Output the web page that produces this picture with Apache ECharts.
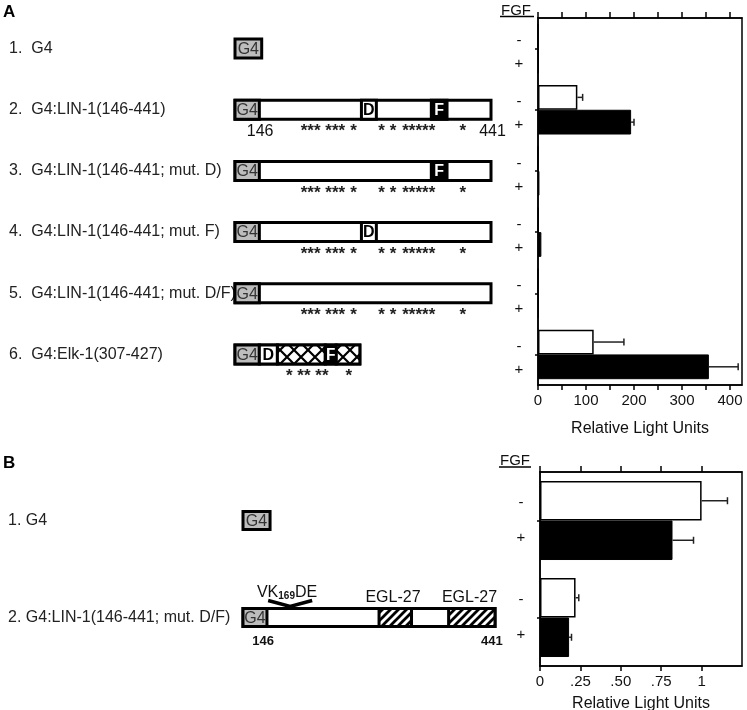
<!DOCTYPE html>
<html>
<head>
<meta charset="utf-8">
<script src="https://cdn.jsdelivr.net/npm/echarts@6/dist/echarts.min.js"></script>
<style>
  html, body { margin: 0; padding: 0; background: #fff; }
  #chart { width: 747px; height: 710px; }
</style>
</head>
<body>
<div id="chart"></div>
<script>
// ---- panel A data (Relative Light Units) ----
const constructsA = [
  '1.  G4',
  '2.  G4:LIN-1(146-441)',
  '3.  G4:LIN-1(146-441; mut. D)',
  '4.  G4:LIN-1(146-441; mut. F)',
  '5.  G4:LIN-1(146-441; mut. D/F)',
  '6.  G4:Elk-1(307-427)'
];
const minusFgfA = [0, 82, 0, 1, 0, 116];
const minusErrA = [0, 11, 0, 0, 0, 63];
const plusFgfA = [1, 194, 3, 7, 1, 356];
const plusErrA = [0, 6, 0, 0, 0, 61];
const ticksA = [0, 50, 100, 150, 200, 250, 300, 350, 400];
const labelsA = [0, 100, 200, 300, 400];

// ---- panel B data ----
const constructsB = ['1. G4', '2. G4:LIN-1(146-441; mut. D/F)'];
const minusFgfB = [1.0, 0.22];
const minusErrB = [0.16, 0.02];
const plusFgfB = [0.82, 0.18];
const plusErrB = [0.13, 0.015];
const ticksB = [0, 0.25, 0.5, 0.75, 1];
const tickLabelsB = ['0', '.25', '.50', '.75', '1'];

// ---- construct schematics: [row, start, end, kind] on the LIN-1 residue scale ----
const domainsA = [
  [0, 115, 149, 'g4'],
  [1, 115, 441, 'body'], [1, 115, 146, 'g4'], [1, 276, 295, 'D'], [1, 365, 385, 'F'],
  [2, 115, 441, 'body'], [2, 115, 146, 'g4'], [2, 365, 385, 'F'],
  [3, 115, 441, 'body'], [3, 115, 146, 'g4'], [3, 276, 295, 'D'],
  [4, 115, 441, 'body'], [4, 115, 146, 'g4'],
  [5, 115, 274, 'body'], [5, 115, 146, 'g4'], [5, 146, 169, 'D'],
  [5, 169, 230, 'cross'], [5, 230, 244, 'F'], [5, 244, 274, 'cross']
];
// [row, position, text, kind]
const notesA = [
  [1, 147, '146', 'num'], [1, 443, '441', 'num'],
  [1, 227, '*** ***', 'star'], [1, 266, '*', 'star'], [1, 309, '* *', 'star'], [1, 349, '*****', 'star'], [1, 405, '*', 'star'],
  [2, 227, '*** ***', 'star'], [2, 266, '*', 'star'], [2, 309, '* *', 'star'], [2, 349, '*****', 'star'], [2, 405, '*', 'star'],
  [3, 227, '*** ***', 'star'], [3, 266, '*', 'star'], [3, 309, '* *', 'star'], [3, 349, '*****', 'star'], [3, 405, '*', 'star'],
  [4, 227, '*** ***', 'star'], [4, 266, '*', 'star'], [4, 309, '* *', 'star'], [4, 349, '*****', 'star'], [4, 405, '*', 'star'],
  [5, 207, '* ** **', 'star'], [5, 260, '*', 'star']
];
const domainsB = [
  [0, 115, 150, 'g4'],
  [1, 115, 441, 'body'], [1, 115, 146, 'g4'], [1, 291, 333, 'hatch'], [1, 381, 441, 'hatch']
];
const notesB = [
  [1, 141, '146', 'numB'], [1, 437, '441', 'numB'],
  [1, 309, 'EGL-27', 'egl'], [1, 408, 'EGL-27', 'egl'],
  [1, 172, 'VK169DE', 'vk'], [1, 176, '', 'vmark']
];

const FONT = 'Liberation Sans, Arial, sans-serif';

function hatchPattern() {
  const c = document.createElement('canvas');
  c.width = 8; c.height = 8;
  const g = c.getContext('2d');
  g.fillStyle = '#fff'; g.fillRect(0, 0, 8, 8);
  g.strokeStyle = '#000'; g.lineWidth = 2.8;
  g.beginPath();
  g.moveTo(-2, 10); g.lineTo(10, -2);
  g.moveTo(-6, 6); g.lineTo(6, -6);
  g.moveTo(2, 14); g.lineTo(14, 2);
  g.stroke();
  return { image: c, repeat: 'repeat' };
}
function crossPattern() {
  const s = 14;
  const c = document.createElement('canvas');
  c.width = s; c.height = s;
  const g = c.getContext('2d');
  g.fillStyle = '#fff'; g.fillRect(0, 0, s, s);
  g.strokeStyle = '#000'; g.lineWidth = 2.2;
  g.beginPath();
  g.moveTo(0, 0); g.lineTo(s, s);
  g.moveTo(s, 0); g.lineTo(0, s);
  g.stroke();
  return { image: c, repeat: 'repeat' };
}
const HATCH = hatchPattern();
const CROSS = crossPattern();

function domainRender(src, h) {
  return function (params, api) {
    const d = src[params.dataIndex];
    const p0 = api.coord([d[1], d[0]]);
    const p1 = api.coord([d[2], d[0]]);
    const x = p0[0], w = p1[0] - p0[0], cy = p0[1];
    const style = { fill: '#fff', stroke: '#000', lineWidth: 3 };
    let label = null;
    if (d[3] === 'g4') {
      style.fill = '#bdbdbd';
      label = { text: 'G4', fill: '#333', fontSize: 16, fontFamily: FONT };
    } else if (d[3] === 'D') {
      label = { text: 'D', fill: '#000', fontSize: 16, fontWeight: 'bold', fontFamily: FONT };
    } else if (d[3] === 'F') {
      style.fill = '#000';
      label = { text: 'F', fill: '#fff', fontSize: 16, fontWeight: 'bold', fontFamily: FONT };
    } else if (d[3] === 'hatch') {
      style.fill = HATCH;
    } else if (d[3] === 'cross') {
      style.fill = CROSS;
    }
    const children = [{ type: 'rect', shape: { x: x, y: cy - h / 2, width: w, height: h }, style: style }];
    if (label) {
      children.push({
        type: 'text',
        style: Object.assign({ x: x + w / 2, y: cy + 1, align: 'center', verticalAlign: 'middle' }, label)
      });
    }
    return { type: 'group', children: children };
  };
}

function noteRender(src) {
  return function (params, api) {
    const n = src[params.dataIndex];
    const p = api.coord([n[1], n[0]]);
    const kind = n[3];
    if (kind === 'vmark') {
      return {
        type: 'polyline',
        shape: { points: [[p[0] - 22, p[1] - 17], [p[0], p[1] - 11], [p[0] + 22, p[1] - 17]] },
        style: { stroke: '#000', lineWidth: 3.5, fill: null }
      };
    }
    const st = { x: p[0], align: 'center', verticalAlign: 'middle', fill: '#111', fontFamily: FONT, text: n[2] };
    if (kind === 'star') {
      Object.assign(st, { y: p[1] + 22, fontSize: 17, fontWeight: 'bold', fill: '#222' });
    } else if (kind === 'num') {
      Object.assign(st, { y: p[1] + 22, fontSize: 16 });
    } else if (kind === 'numB') {
      Object.assign(st, { y: p[1] + 24, fontSize: 13, fontWeight: 'bold' });
    } else if (kind === 'egl') {
      Object.assign(st, { y: p[1] - 20, fontSize: 16 });
    } else if (kind === 'vk') {
      Object.assign(st, {
        y: p[1] - 25, fontSize: 16,
        text: '{a|VK}{s|169}{a|DE}',
        rich: {
          a: { fontSize: 16, fontFamily: FONT, fill: '#111' },
          s: { fontSize: 10, fontWeight: 'bold', fontFamily: FONT, fill: '#111', padding: [8, 0, 0, 0] }
        }
      });
    }
    return { type: 'text', style: st };
  };
}

function errorRender(vals, errs, sign, gap) {
  return function (params, api) {
    const i = params.dataIndex;
    const e = errs[i];
    if (!e) return;
    const band = api.size([0, 1])[1];
    const bw = band * (1 - gap) / 2;
    const p0 = api.coord([vals[i], i]);
    const p1 = api.coord([vals[i] + e, i]);
    const y = p0[1] + sign * bw / 2;
    const ls = { stroke: '#222', lineWidth: 1.5 };
    return {
      type: 'group',
      children: [
        { type: 'line', shape: { x1: p0[0], y1: y, x2: p1[0], y2: y }, style: ls },
        { type: 'line', shape: { x1: p1[0], y1: y - 3.5, x2: p1[0], y2: y + 3.5 }, style: ls }
      ]
    };
  };
}

const chart = echarts.init(document.getElementById('chart'), null, { renderer: 'canvas' });

const axisLineBlack = { show: true, lineStyle: { color: '#000', width: 1.5 } };
const gapA = 0.19, gapB = 0.185;

function valueAxes(gridIndex, max, ticks, labels, fmt, nameGap) {
  return [
    {
      gridIndex: gridIndex, type: 'value', position: 'bottom', min: 0, max: max,
      axisLine: axisLineBlack, splitLine: { show: false },
      axisTick: { show: true, length: 5, lineStyle: { color: '#000', width: 1.5 }, customValues: ticks },
      axisLabel: { color: '#111', fontSize: 15, fontFamily: FONT, margin: 8, customValues: labels, formatter: fmt },
      name: 'Relative Light Units', nameLocation: 'middle', nameGap: nameGap,
      nameTextStyle: { color: '#111', fontSize: 16, fontFamily: FONT }
    },
    {
      gridIndex: gridIndex, type: 'value', position: 'top', min: 0, max: max,
      axisLine: axisLineBlack, splitLine: { show: false },
      axisTick: { show: true, length: 6, lineStyle: { color: '#000', width: 1.5 }, customValues: ticks },
      axisLabel: { show: false }
    }
  ];
}

// "-" / "+" FGF marks beside each pair of bars
const fgfRich = {
  e: { fontSize: 15, lineHeight: 8, fontFamily: FONT, color: '#111' },
  m: { fontSize: 15, lineHeight: 23, fontFamily: FONT, color: '#111' },
  p: { fontSize: 15, lineHeight: 23, fontFamily: FONT, color: '#111' }
};

const option = {
  animation: false,
  backgroundColor: '#fff',
  grid: [
    { left: 538, top: 18, width: 204, height: 367, show: true, borderColor: '#000', borderWidth: 1.5, backgroundColor: '#fff', outerBoundsMode: 'none' },
    { left: 540, top: 472, width: 202, height: 194, show: true, borderColor: '#000', borderWidth: 1.5, backgroundColor: '#fff', outerBoundsMode: 'none' },
    { left: 235, top: 18, width: 256, height: 367, outerBoundsMode: 'none' },
    { left: 243, top: 472, width: 252, height: 194, outerBoundsMode: 'none' }
  ],
  xAxis: [].concat(
    valueAxes(0, 425, ticksA, labelsA, function (v) { return String(v); }, 36),
    valueAxes(1, 1.25, ticksB, ticksB, function (v) { return tickLabelsB[ticksB.indexOf(v)]; }, 30),
    [
      { gridIndex: 2, type: 'value', min: 115, max: 441, show: false },
      { gridIndex: 3, type: 'value', min: 115, max: 441, show: false }
    ]
  ),
  yAxis: [
    {
      gridIndex: 0, type: 'category', inverse: true, data: constructsA,
      axisLine: axisLineBlack,
      axisTick: { show: true, alignWithLabel: true, length: 3, lineStyle: { color: '#000', width: 1.5 } },
      axisLabel: { interval: 0, formatter: function () { return '{e| }\n{m|-}\n{p|+}'; }, align: 'center', margin: 19,
        rich: fgfRich }
    },
    {
      gridIndex: 1, type: 'category', inverse: true, data: constructsB,
      axisLine: axisLineBlack,
      axisTick: { show: true, alignWithLabel: true, length: 3, lineStyle: { color: '#000', width: 1.5 } },
      axisLabel: { interval: 0, formatter: function () { return '-\n+'; }, align: 'center', margin: 19,
        color: '#111', fontSize: 15, lineHeight: 35, fontFamily: FONT }
    },
    {
      gridIndex: 2, type: 'category', inverse: true, data: constructsA,
      axisLine: { show: false }, axisTick: { show: false },
      axisLabel: { interval: 0, align: 'left', margin: 226, color: '#222', fontSize: 16, fontFamily: FONT }
    },
    {
      gridIndex: 3, type: 'category', inverse: true, data: constructsB,
      axisLine: { show: false }, axisTick: { show: false },
      axisLabel: { interval: 0, align: 'left', margin: 235, color: '#222', fontSize: 16, fontFamily: FONT }
    }
  ],
  series: [
    { name: '- FGF', type: 'bar', xAxisIndex: 0, yAxisIndex: 0, data: minusFgfA, barGap: '0%', barCategoryGap: '19%',
      itemStyle: { color: '#fff', borderColor: '#000', borderWidth: 1.5 } },
    { name: '+ FGF', type: 'bar', xAxisIndex: 0, yAxisIndex: 0, data: plusFgfA, barGap: '0%', barCategoryGap: '19%',
      itemStyle: { color: '#000', borderColor: '#000', borderWidth: 1 } },
    { type: 'custom', xAxisIndex: 0, yAxisIndex: 0, renderItem: errorRender(minusFgfA, minusErrA, -1, gapA),
      data: minusFgfA.map(function (v, i) { return [v + minusErrA[i], i]; }), z: 5 },
    { type: 'custom', xAxisIndex: 0, yAxisIndex: 0, renderItem: errorRender(plusFgfA, plusErrA, 1, gapA),
      data: plusFgfA.map(function (v, i) { return [v + plusErrA[i], i]; }), z: 5 },

    { name: '- FGF', type: 'bar', xAxisIndex: 2, yAxisIndex: 1, data: minusFgfB, barGap: '0%', barCategoryGap: '18.5%',
      itemStyle: { color: '#fff', borderColor: '#000', borderWidth: 1.5 } },
    { name: '+ FGF', type: 'bar', xAxisIndex: 2, yAxisIndex: 1, data: plusFgfB, barGap: '0%', barCategoryGap: '18.5%',
      itemStyle: { color: '#000', borderColor: '#000', borderWidth: 1 } },
    { type: 'custom', xAxisIndex: 2, yAxisIndex: 1, renderItem: errorRender(minusFgfB, minusErrB, -1, gapB),
      data: minusFgfB.map(function (v, i) { return [v + minusErrB[i], i]; }), z: 5 },
    { type: 'custom', xAxisIndex: 2, yAxisIndex: 1, renderItem: errorRender(plusFgfB, plusErrB, 1, gapB),
      data: plusFgfB.map(function (v, i) { return [v + plusErrB[i], i]; }), z: 5 },

    { type: 'custom', xAxisIndex: 4, yAxisIndex: 2, renderItem: domainRender(domainsA, 19),
      encode: { x: [0, 1], y: 2 }, data: domainsA.map(function (d) { return [d[1], d[2], d[0]]; }) },
    { type: 'custom', xAxisIndex: 4, yAxisIndex: 2, renderItem: noteRender(notesA),
      encode: { x: 0, y: 1 }, data: notesA.map(function (n) { return [n[1], n[0]]; }) },
    { type: 'custom', xAxisIndex: 5, yAxisIndex: 3, renderItem: domainRender(domainsB, 18),
      encode: { x: [0, 1], y: 2 }, data: domainsB.map(function (d) { return [d[1], d[2], d[0]]; }) },
    { type: 'custom', xAxisIndex: 5, yAxisIndex: 3, renderItem: noteRender(notesB),
      encode: { x: 0, y: 1 }, data: notesB.map(function (n) { return [n[1], n[0]]; }) }
  ],
  graphic: [
    { type: 'text', left: 3, top: 4, style: { text: 'A', fontSize: 17, fontWeight: 'bold', fontFamily: FONT, fill: '#000' } },
    { type: 'text', left: 3, top: 455, style: { text: 'B', fontSize: 17, fontWeight: 'bold', fontFamily: FONT, fill: '#000' } },
    { type: 'text', left: 501, top: 3, style: { text: 'FGF', fontSize: 15, fontFamily: FONT, fill: '#111' } },
    { type: 'line', shape: { x1: 500, y1: 16.5, x2: 534, y2: 16.5 }, style: { stroke: '#000', lineWidth: 1.5 } },
    { type: 'text', left: 500, top: 453, style: { text: 'FGF', fontSize: 15, fontFamily: FONT, fill: '#111' } },
    { type: 'line', shape: { x1: 499, y1: 467, x2: 531, y2: 467 }, style: { stroke: '#000', lineWidth: 1.5 } }
  ]
};

chart.setOption(option);
</script>
</body>
</html>
